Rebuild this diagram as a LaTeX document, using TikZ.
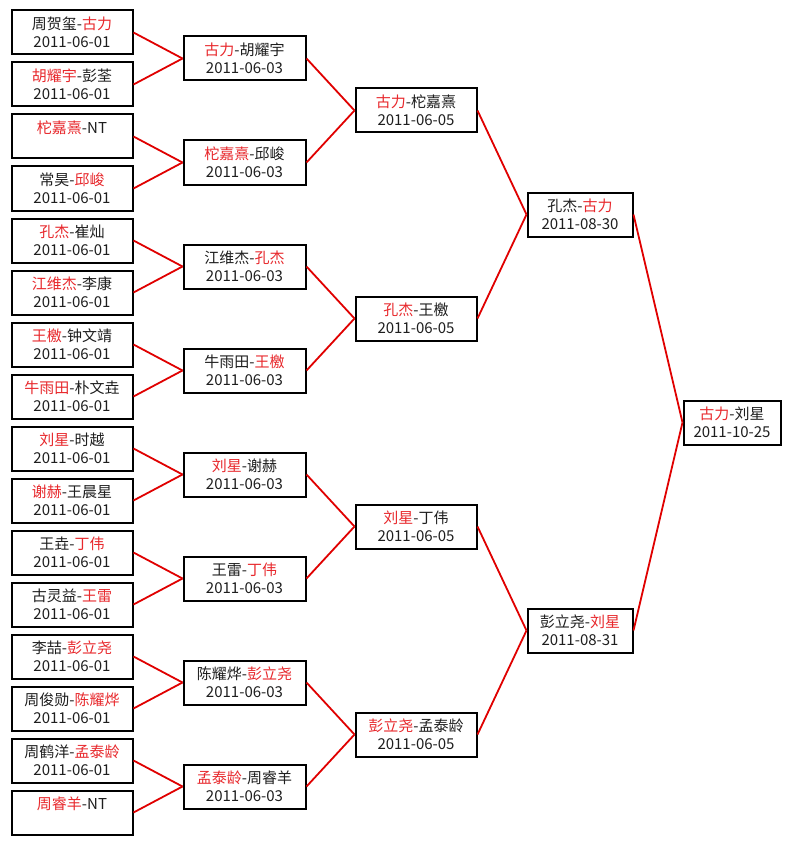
\documentclass[tikz,border=0pt]{standalone}
\usepackage{fontspec}
\setmainfont{Noto Sans CJK SC}
\definecolor{winred}{HTML}{E8282C}
\definecolor{linkred}{HTML}{E00000}
\definecolor{textgray}{HTML}{1E1E1E}
\newcommand{\hl}[1]{\textcolor{winred}{#1}}
\newcommand{\nodate}{\phantom{2011-06-01}}
\begin{document}
\begin{tikzpicture}[x=1pt,y=-1pt,
  match/.style={draw=black, line width=2pt, fill=white, inner sep=0pt,
    minimum height=44pt, align=center, text=textgray,
    font=\fontsize{15}{18}\selectfont},
  cA/.style={match, minimum width=121pt},
  cB/.style={match, minimum width=122pt},
  cC/.style={match, minimum width=121pt},
  cD/.style={match, minimum width=105pt},
  cE/.style={match, minimum width=97pt},
  link/.style={draw=linkred, line width=1.8pt}]
\useasboundingbox[fill=white] (0,0) rectangle (792,845);

% Round 1
\node[cA] (a1)  at (72, 32.5)  {周贺玺-\hl{古力}\\2011-06-01};
\node[cA] (a2)  at (72, 84.5)  {\hl{胡耀宇}-彭荃\\2011-06-01};
\node[cA] (a3)  at (72, 136.5) {\hl{柁嘉熹}-NT\\\nodate};
\node[cA] (a4)  at (72, 188.5) {常昊-\hl{邱峻}\\2011-06-01};
\node[cA] (a5)  at (72, 240.5) {\hl{孔杰}-崔灿\\2011-06-01};
\node[cA] (a6)  at (72, 292.5) {\hl{江维杰}-李康\\2011-06-01};
\node[cA] (a7)  at (72, 344.5) {\hl{王檄}-钟文靖\\2011-06-01};
\node[cA] (a8)  at (72, 396.5) {\hl{牛雨田}-朴文垚\\2011-06-01};
\node[cA] (a9)  at (72, 448.5) {\hl{刘星}-时越\\2011-06-01};
\node[cA] (a10) at (72, 500.5) {\hl{谢赫}-王晨星\\2011-06-01};
\node[cA] (a11) at (72, 552.5) {王垚-\hl{丁伟}\\2011-06-01};
\node[cA] (a12) at (72, 604.5) {古灵益-\hl{王雷}\\2011-06-01};
\node[cA] (a13) at (72, 656.5) {李喆-\hl{彭立尧}\\2011-06-01};
\node[cA] (a14) at (72, 708.5) {周俊勋-\hl{陈耀烨}\\2011-06-01};
\node[cA] (a15) at (72, 760.5) {周鹤洋-\hl{孟泰龄}\\2011-06-01};
\node[cA] (a16) at (72, 812.5) {\hl{周睿羊}-NT\\\nodate};

% Round 2
\node[cB] (b1) at (244.5, 58.5)  {\hl{古力}-胡耀宇\\2011-06-03};
\node[cB] (b2) at (244.5, 162.5) {\hl{柁嘉熹}-邱峻\\2011-06-03};
\node[cB] (b3) at (244.5, 266.5) {江维杰-\hl{孔杰}\\2011-06-03};
\node[cB] (b4) at (244.5, 370.5) {牛雨田-\hl{王檄}\\2011-06-03};
\node[cB] (b5) at (244.5, 474.5) {\hl{刘星}-谢赫\\2011-06-03};
\node[cB] (b6) at (244.5, 578.5) {王雷-\hl{丁伟}\\2011-06-03};
\node[cB] (b7) at (244.5, 682.5) {陈耀烨-\hl{彭立尧}\\2011-06-03};
\node[cB] (b8) at (244.5, 786.5) {\hl{孟泰龄}-周睿羊\\2011-06-03};

% Round 3
\node[cC] (c1) at (416, 110.5) {\hl{古力}-柁嘉熹\\2011-06-05};
\node[cC] (c2) at (416, 318.5) {\hl{孔杰}-王檄\\2011-06-05};
\node[cC] (c3) at (416, 526.5) {\hl{刘星}-丁伟\\2011-06-05};
\node[cC] (c4) at (416, 734.5) {\hl{彭立尧}-孟泰龄\\2011-06-05};

% Round 4
\node[cD] (d1) at (580, 214.5) {孔杰-\hl{古力}\\2011-08-30};
\node[cD] (d2) at (580, 630.5) {彭立尧-\hl{刘星}\\2011-08-31};

% Final
\node[cE] (e1) at (732, 422.5) {\hl{古力}-刘星\\2011-10-25};

% Connectors
\foreach \i/\j in {1/1,2/1,3/2,4/2,5/3,6/3,7/4,8/4,9/5,10/5,11/6,12/6,13/7,14/7,15/8,16/8}
  \draw[link] (a\i.east) -- (b\j.west);
\foreach \i/\j in {1/1,2/1,3/2,4/2,5/3,6/3,7/4,8/4}
  \draw[link] (b\i.east) -- (c\j.west);
\foreach \i/\j in {1/1,2/1,3/2,4/2}
  \draw[link] (c\i.east) -- (d\j.west);
\foreach \i in {1,2}
  \draw[link] (d\i.east) -- (e1.west);
\end{tikzpicture}
\end{document}
